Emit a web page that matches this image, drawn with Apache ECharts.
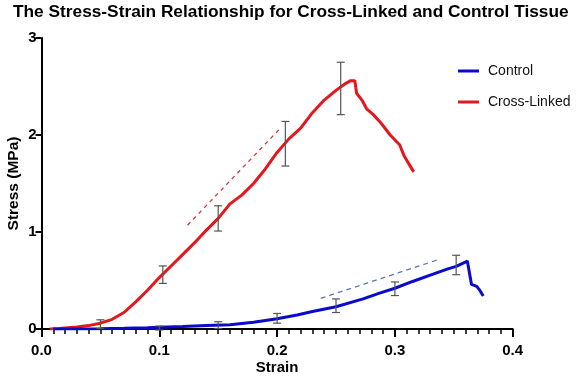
<!DOCTYPE html>
<html>
<head>
<meta charset="utf-8">
<script src="https://cdn.jsdelivr.net/npm/echarts@6/dist/echarts.min.js"></script>
<style>html,body{margin:0;padding:0;background:#fff}#c{width:582px;height:381px}</style>
</head>
<body>
<div id="c"></div>
<script>
// Data: [strain, stress MPa]
var crossLinked = [
  [0.007,0.00],[0.015,0.005],[0.02,0.01],[0.03,0.02],[0.04,0.035],[0.05,0.06],
  [0.06,0.10],[0.07,0.17],[0.08,0.28],[0.09,0.40],[0.10,0.53],[0.11,0.65],
  [0.12,0.77],[0.13,0.89],[0.14,1.02],[0.15,1.14],[0.16,1.29],[0.17,1.38],
  [0.18,1.50],[0.19,1.65],[0.20,1.82],[0.21,1.96],[0.22,2.07],[0.23,2.23],
  [0.24,2.36],[0.25,2.46],[0.258,2.53],[0.2625,2.56],[0.266,2.56],[0.2675,2.43],
  [0.272,2.36],[0.276,2.27],[0.2817,2.21],[0.287,2.14],[0.291,2.08],[0.296,2.00],
  [0.304,1.90],[0.308,1.78],[0.312,1.70],[0.316,1.62]
];
var control = [
  [0.01,0.0],[0.03,0.0],[0.05,0.003],[0.07,0.008],[0.09,0.014],[0.10,0.018],
  [0.12,0.025],[0.14,0.035],[0.16,0.045],[0.18,0.07],[0.20,0.106],[0.217,0.144],
  [0.23,0.18],[0.25,0.23],[0.273,0.31],[0.287,0.37],[0.30,0.42],[0.315,0.49],
  [0.33,0.556],[0.345,0.62],[0.352,0.645],[0.358,0.68],[0.3615,0.70],[0.363,0.69],
  [0.365,0.46],[0.3695,0.44],[0.372,0.40],[0.375,0.34]
];
// Error bars: [strain, mean, error]
var crossLinkedErr = [[0.05,0.05,0.045],[0.103,0.56,0.09],[0.15,1.14,0.13],[0.207,1.91,0.23],[0.254,2.48,0.27]];
var controlErr = [[0.10,0.01,0.02],[0.15,0.04,0.035],[0.20,0.11,0.05],[0.25,0.24,0.07],[0.30,0.415,0.07],[0.352,0.66,0.10]];
// Dashed tangent lines
var crossLinkedTangent = [[0.124,1.07],[0.202,2.06]];
var controlTangent = [[0.237,0.316],[0.338,0.72]];
var xTicks = [0, 0.1, 0.2, 0.3, 0.4];
var yTicks = [0, 1, 2, 3];

var FONT = "'Liberation Sans', Arial, sans-serif";
function errRender(params, api) {
  var x = api.value(0), y = api.value(1), e = api.value(2);
  var t = api.coord([x, y + e]), b = api.coord([x, y - e]);
  var h = 4;
  var st = {stroke: '#555', lineWidth: 1.2};
  return {type: 'group', children: [
    {type: 'line', shape: {x1: t[0], y1: t[1], x2: b[0], y2: b[1]}, style: st},
    {type: 'line', shape: {x1: t[0]-h, y1: t[1], x2: t[0]+h, y2: t[1]}, style: st},
    {type: 'line', shape: {x1: b[0]-h, y1: b[1], x2: b[0]+h, y2: b[1]}, style: st}
  ]};
}
var chart = echarts.init(document.getElementById('c'));
chart.setOption({
  animation: false,
  textStyle: {fontFamily: FONT},
  title: {
    text: 'The Stress-Strain Relationship for Cross-Linked and Control Tissue',
    left: 13, top: 4, padding: 0,
    textStyle: {fontFamily: FONT, fontSize: 17.3, fontWeight: 'bold', color: '#000'}
  },
  legend: {
    orient: 'vertical', left: 453, top: 59, itemGap: 17,
    itemWidth: 21, itemHeight: 3,
    textStyle: {fontFamily: FONT, fontSize: 14, color: '#111', padding: [0, 0, 0, 4]},
    data: [{name: 'Control', icon: 'rect'}, {name: 'Cross-Linked', icon: 'rect'}]
  },
  grid: {left: 41.5, right: 69.3, top: 38, bottom: 52, containLabel: false, outerBoundsMode: 'none'},
  xAxis: {
    type: 'value', min: xTicks[0], max: xTicks[xTicks.length-1], interval: 0.1,
    name: 'Strain', nameLocation: 'middle', nameGap: 31, nameMoveOverlap: false,
    nameTextStyle: {fontFamily: FONT, fontSize: 15, fontWeight: 'bold', color: '#000'},
    axisLine: {onZero: false, lineStyle: {color: '#000', width: 2}},
    axisTick: {length: 8, lineStyle: {color: '#000', width: 2}},
    minorTick: {show: true, splitNumber: 10, length: 5, lineStyle: {color: '#000', width: 1.5}},
    axisLabel: {fontFamily: FONT, fontSize: 15, fontWeight: 'bold', color: '#000', margin: 14,
      formatter: function(v){ return v.toFixed(1); }},
    splitLine: {show: false}
  },
  yAxis: {
    type: 'value', min: yTicks[0], max: yTicks[yTicks.length-1], interval: 1,
    name: 'Stress (MPa)', nameLocation: 'middle', nameGap: 20, nameMoveOverlap: false,
    nameTextStyle: {fontFamily: FONT, fontSize: 15.5, fontWeight: 'bold', color: '#000'},
    axisLine: {show: true, onZero: false, lineStyle: {color: '#000', width: 2}},
    axisTick: {show: true, length: 6, lineStyle: {color: '#000', width: 2}},
    axisLabel: {fontFamily: FONT, fontSize: 15, fontWeight: 'bold', color: '#000', margin: 5},
    splitLine: {show: false}
  },
  series: [
    {name: 'Cross-Linked', type: 'line', data: crossLinked, showSymbol: false, symbol: 'none',
     itemStyle: {color: '#e3171c'}, lineStyle: {color: '#e3171c', width: 3}, z: 2},
    {name: 'Control', type: 'line', data: control, showSymbol: false, symbol: 'none',
     itemStyle: {color: '#0a0acf'}, lineStyle: {color: '#0a0acf', width: 3}, z: 3},
    {name: 'crossTan', type: 'line', data: crossLinkedTangent, showSymbol: false, symbol: 'none',
     lineStyle: {color: '#d9363a', width: 1.3, type: [4, 4]}, z: 2},
    {name: 'ctrlTan', type: 'line', data: controlTangent, showSymbol: false, symbol: 'none',
     lineStyle: {color: '#6078b8', width: 1.3, type: [5, 4]}, z: 2},
    {name: 'crossErr', type: 'custom', data: crossLinkedErr, renderItem: errRender, encode: {x: 0, y: 1}, z: 5},
    {name: 'ctrlErr', type: 'custom', data: controlErr, renderItem: errRender, encode: {x: 0, y: 1}, z: 5}
  ]
});
</script>
</body>
</html>
